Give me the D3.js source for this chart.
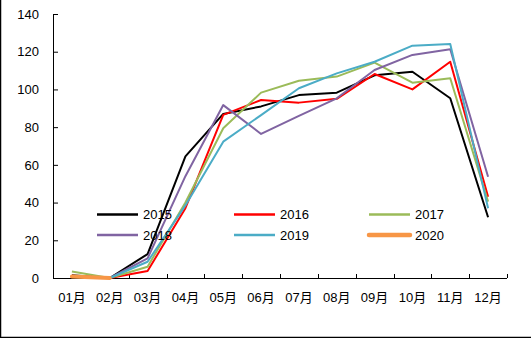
<!DOCTYPE html>
<html>
<head>
<meta charset="utf-8">
<script src="https://cdn.jsdelivr.net/npm/d3@7"></script>
<style>
  html, body { margin: 0; padding: 0; background: #fff; }
  svg { display: block; }
  text { font-family: "Liberation Sans", "Noto Sans CJK SC", sans-serif; fill: #000; }
</style>
</head>
<body>
<svg id="chart" width="531" height="338"></svg>
<script>
// Monthly categories and yearly series
const months = ["01月","02月","03月","04月","05月","06月","07月","08月","09月","10月","11月","12月"];
const yTicks = [0, 20, 40, 60, 80, 100, 120, 140];

const years  = ["2015", "2016", "2017", "2018", "2019", "2020"];
const colors = ["#000000", "#ff0000", "#9bbb59", "#8064a2", "#4bacc6", "#f79646"];

const s2015 = [1.5, 0, 12.7, 64.5, 87, 91, 97, 98.3, 107.5, 109.4, 95.3, 32.2];
const s2016 = [1.2, 0, 3.7, 37, 86.5, 94.4, 93, 95, 108.2, 100, 114.7, 43.1];
const s2017 = [3.4, 0, 6, 40, 79.4, 98.3, 104.6, 106.8, 114.2, 103.6, 105.9, 40.5];
const s2018 = [1, 0, 10.4, 54, 91.7, 76.4, 86, 95.3, 110.3, 118.3, 121.3, 53.7];
const s2019 = [0.5, 0, 8.6, 38.5, 72.3, 86.4, 100.6, 108.5, 114.7, 123.2, 124.1, 37];
const s2020 = [0.8, 0];

const seriesValues = [s2015, s2016, s2017, s2018, s2019, s2020];

const svg = d3.select("#chart");

// Outer frame (left and bottom edges)
svg.append("path")
  .attr("d", "M0.5,0 V337.5 H531")
  .attr("fill", "none")
  .attr("stroke", "#000")
  .attr("stroke-width", 1.5);

const x = d3.scaleBand().domain(months).range([53, 507]).padding(0);
const y = d3.scaleLinear().domain([0, 140]).range([278, 14]);
const cx = m => x(m) + x.bandwidth() / 2;

// Y axis with inward ticks
const yAxis = d3.axisLeft(y).tickValues(yTicks).tickSizeInner(-5).tickSizeOuter(0).tickPadding(14);
const gy = svg.append("g").attr("transform", "translate(53,0)").call(yAxis);
gy.select(".domain").attr("stroke", "#000");
gy.selectAll("line").attr("stroke", "#000");
gy.selectAll("text").style("font-size", "13px").attr("fill", "#000");

// X axis: labels at category centres
const xAxis = d3.axisBottom(x).tickSize(0).tickPadding(14.5);
const gx = svg.append("g").attr("transform", "translate(0,278)").call(xAxis);
gx.select(".domain").remove();
gx.selectAll("text").style("font-size", "13px").attr("fill", "#000");

// X axis line and boundary ticks
svg.append("line")
  .attr("x1", 53).attr("x2", 507).attr("y1", 278.5).attr("y2", 278.5)
  .attr("stroke", "#000");
const bounds = months.map(m => x(m)).concat([x.range()[1]]);
svg.append("g").selectAll("line").data(bounds.slice(1)).join("line")
  .attr("x1", d => Math.round(d) + 0.5).attr("x2", d => Math.round(d) + 0.5)
  .attr("y1", 278).attr("y2", 274)
  .attr("stroke", "#000");

// Series lines
const line = d3.line()
  .x((d, i) => cx(months[i]))
  .y(d => y(d));

seriesValues.forEach((vals, k) => {
  svg.append("path")
    .datum(vals)
    .attr("d", line)
    .attr("fill", "none")
    .attr("stroke", colors[k])
    .attr("stroke-width", years[k] === "2020" ? 4 : 2)
    .attr("stroke-linejoin", "round")
    .attr("stroke-linecap", years[k] === "2020" ? "round" : "butt");
});

// Legend, three columns by two rows
const legendCols = [97, 234, 369];
const legendRows = [214.5, 235];
years.forEach((yr, k) => {
  const lx = legendCols[k % 3];
  const ly = legendRows[Math.floor(k / 3)];
  svg.append("line")
    .attr("x1", lx).attr("x2", lx + 41)
    .attr("y1", ly).attr("y2", ly)
    .attr("stroke", colors[k])
    .attr("stroke-width", yr === "2020" ? 4.5 : 2.5)
    .attr("stroke-linecap", yr === "2020" ? "round" : "butt");
  svg.append("text")
    .attr("x", lx + 46).attr("y", ly)
    .attr("dy", "0.35em")
    .style("font-size", "13px")
    .text(yr);
});
</script>
</body>
</html>
